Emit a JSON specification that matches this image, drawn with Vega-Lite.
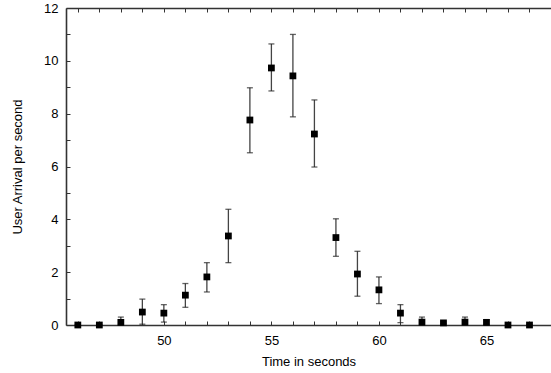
{
  "$schema": "https://vega.github.io/schema/vega-lite/v6.json",
  "width": 485,
  "height": 317,
  "autosize": "none",
  "padding": {"left": 66, "top": 8, "right": 0, "bottom": 48},
  "background": "white",
  "config": {
    "view": {"stroke": null},
    "font": "Liberation Sans",
    "axis": {
      "domainColor": "#333333",
      "domainWidth": 1.6,
      "tickColor": "#333333",
      "tickWidth": 1,
      "tickSize": -4,
      "grid": false,
      "labelFont": "Liberation Sans",
      "labelFontSize": 13,
      "labelColor": "#000000",
      "titleFont": "Liberation Sans",
      "titleFontSize": 13,
      "titleFontWeight": "normal",
      "titleColor": "#000000"
    }
  },
  "data": {
    "values": [
      {"t": 46, "v": 0.0, "lo": 0.0, "hi": 0.0},
      {"t": 47, "v": 0.0, "lo": 0.0, "hi": 0.0},
      {"t": 48, "v": 0.1, "lo": 0.0, "hi": 0.3},
      {"t": 49, "v": 0.49, "lo": 0.03, "hi": 0.98},
      {"t": 50, "v": 0.45, "lo": 0.11, "hi": 0.77},
      {"t": 51, "v": 1.13, "lo": 0.67, "hi": 1.57},
      {"t": 52, "v": 1.82, "lo": 1.25, "hi": 2.36},
      {"t": 53, "v": 3.37, "lo": 2.36, "hi": 4.38},
      {"t": 54, "v": 7.76, "lo": 6.52, "hi": 8.98},
      {"t": 55, "v": 9.73, "lo": 8.86, "hi": 10.64},
      {"t": 56, "v": 9.43, "lo": 7.88, "hi": 11.0},
      {"t": 57, "v": 7.23, "lo": 5.98, "hi": 8.52},
      {"t": 58, "v": 3.31, "lo": 2.6, "hi": 4.02},
      {"t": 59, "v": 1.93, "lo": 1.09, "hi": 2.79},
      {"t": 60, "v": 1.33, "lo": 0.81, "hi": 1.82},
      {"t": 61, "v": 0.45, "lo": 0.09, "hi": 0.77},
      {"t": 62, "v": 0.11, "lo": 0.0, "hi": 0.3},
      {"t": 63, "v": 0.08, "lo": 0.05, "hi": 0.12},
      {"t": 64, "v": 0.11, "lo": 0.0, "hi": 0.3},
      {"t": 65, "v": 0.1, "lo": 0.0, "hi": 0.2},
      {"t": 66, "v": 0.0, "lo": 0.0, "hi": 0.0},
      {"t": 67, "v": 0.0, "lo": 0.0, "hi": 0.0}
    ]
  },
  "resolve": {"axis": {"x": "independent", "y": "independent"}},
  "layer": [
    {
      "mark": {"type": "rule", "color": "#444444", "strokeWidth": 1.3},
      "encoding": {
        "x": {
          "field": "t", "type": "quantitative",
          "scale": {"domain": [45.45, 68], "nice": false, "zero": false},
          "axis": {
            "orient": "bottom",
            "values": [46,47,48,49,50,51,52,53,54,55,56,57,58,59,60,61,62,63,64,65,66,67],
            "labelExpr": "datum.value % 5 == 0 ? datum.label : ''",
            "labelPadding": 13,
            "title": "Time in seconds",
            "titleY": 40,
            "titleBaseline": "alphabetic"
          }
        },
        "y": {
          "field": "lo", "type": "quantitative",
          "scale": {"domain": [0, 12], "nice": false},
          "axis": {
            "orient": "left",
            "values": [0,1,2,3,4,5,6,7,8,9,10,11,12],
            "labelExpr": "datum.value % 2 == 0 ? datum.label : ''",
            "labelPadding": 12,
            "title": "User Arrival per second",
            "titleX": -44.5,
            "titleBaseline": "alphabetic"
          }
        },
        "y2": {"field": "hi"}
      }
    },
    {
      "mark": {"type": "tick", "orient": "horizontal", "color": "#222222", "size": 6, "thickness": 1.3},
      "encoding": {
        "x": {
          "field": "t", "type": "quantitative",
          "axis": {
            "orient": "top",
            "values": [46,47,48,49,50,51,52,53,54,55,56,57,58,59,60,61,62,63,64,65,66,67],
            "labels": false,
            "title": null
          }
        },
        "y": {"field": "lo", "type": "quantitative", "axis": null}
      }
    },
    {
      "mark": {"type": "tick", "orient": "horizontal", "color": "#222222", "size": 6, "thickness": 1.3},
      "encoding": {
        "x": {"field": "t", "type": "quantitative", "axis": null},
        "y": {"field": "hi", "type": "quantitative", "axis": null}
      }
    },
    {
      "mark": {"type": "square", "color": "#000000", "opacity": 1, "filled": true, "size": 46},
      "encoding": {
        "x": {"field": "t", "type": "quantitative", "axis": null},
        "y": {"field": "v", "type": "quantitative", "axis": null}
      }
    }
  ]
}
